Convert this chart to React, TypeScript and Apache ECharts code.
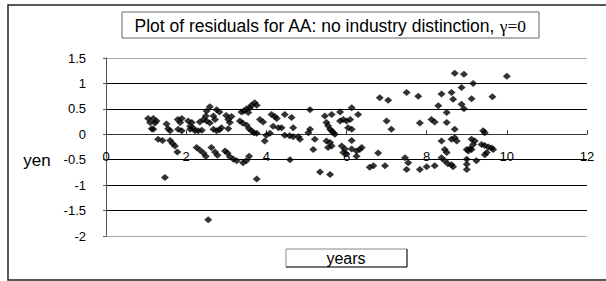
import React, { useEffect, useRef } from "react";
import * as echarts from "echarts";

// years (x) and residuals in yen (y)
const years: number[] = [
  1.05, 1.18, 1.26, 1.10, 1.22, 1.14, 1.18, 1.30, 1.41, 1.51, 1.55, 1.60, 1.60, 1.66, 1.72, 1.78, 1.47,
  1.79, 1.89, 1.85, 1.80, 1.89, 2.05, 2.14, 2.10, 2.18, 2.10, 2.22, 2.30, 2.39, 2.34, 2.43, 2.26, 2.34,
  2.43, 2.49, 2.51, 2.49, 2.59, 2.76, 2.83, 2.68, 2.72, 2.51, 2.59, 2.68, 2.76, 2.83, 2.88, 2.63, 2.72,
  2.78, 2.97, 3.03, 2.55, 3.00, 3.05, 3.09, 3.05, 3.13, 3.09, 3.18, 3.26, 3.38, 3.44, 3.51, 3.55, 3.59,
  3.63, 3.71, 3.76, 3.34, 3.41, 3.51, 3.57, 3.63, 3.69, 3.76, 3.42, 3.50, 3.57, 3.76, 3.84, 3.92, 4.00,
  3.96, 4.09, 4.13, 4.21, 4.26, 4.17, 4.30,
  4.46, 4.63, 4.38, 4.67, 4.46, 4.58, 4.67, 4.80, 4.84, 4.59, 5.09, 5.09, 5.05, 5.21, 5.17, 5.34, 5.59,
  5.46, 5.63, 5.50, 5.54, 5.59, 5.63, 5.67, 5.71, 5.50, 5.59, 5.63, 5.54, 5.84, 5.92, 5.84, 6.00, 6.09,
  6.13, 6.29, 6.04, 6.13, 6.13, 5.88, 5.96, 5.92, 6.00, 6.13, 6.25, 6.38, 6.33, 6.25, 6.58, 6.67, 6.79,
  6.96, 6.83, 7.04, 7.00, 7.12, 7.46, 7.50, 7.54, 7.50, 7.79, 7.83, 7.83, 8.00, 8.20, 8.12, 8.20, 8.29,
  8.37, 8.50, 8.50, 8.37, 8.45, 8.50, 8.37, 8.45, 8.53,
  8.70, 8.93, 9.16, 8.87, 8.62, 8.66, 9.12, 9.64, 10.00, 8.87, 8.93, 8.70, 9.41, 9.45, 8.62, 8.75, 8.70,
  9.12, 9.20, 9.16, 9.00, 9.04, 9.08, 9.12, 9.37, 9.45, 9.54, 9.62, 9.66, 9.45, 9.50, 9.24, 9.00, 9.00,
  9.00, 8.62, 8.66,
];

const residuals: number[] = [
  0.31, 0.31, 0.26, 0.23, 0.22, 0.11, 0.10, -0.10, -0.12, 0.20, 0.11, 0.07, -0.12, -0.18, -0.23, -0.35, -0.85,
  0.29, 0.31, 0.23, 0.10, 0.07, 0.26, 0.23, 0.16, 0.12, 0.10, 0.07, 0.07, 0.08, 0.24, 0.29, -0.26, -0.31,
  -0.37, -0.43, 0.46, 0.36, 0.54, 0.48, 0.44, 0.36, 0.29, 0.26, 0.22, 0.10, 0.07, 0.09, 0.13, -0.26, -0.35,
  -0.41, -0.33, -0.37, -1.68, 0.37, 0.29, 0.23, 0.11, 0.35, -0.44, -0.49, -0.52, 0.44, 0.46, 0.50, 0.43, 0.52,
  0.57, 0.62, 0.57, 0.26, 0.22, 0.18, 0.11, 0.07, 0.03, 0.02, -0.56, -0.52, -0.43, -0.88, 0.29, 0.24, -0.02,
  -0.13, 0.02, 0.39, 0.35, 0.31, 0.16, 0.13,
  0.39, 0.33, 0.13, 0.13, -0.02, -0.03, -0.05, -0.05, -0.10, -0.50, 0.48, 0.10, 0.03, -0.10, -0.30, -0.74, -0.79,
  0.36, 0.39, 0.23, 0.17, 0.10, 0.07, 0.03, 0.00, -0.13, -0.16, -0.23, -0.26, 0.44, 0.29, 0.26, 0.26, 0.29,
  0.52, 0.39, 0.13, 0.10, -0.12, -0.23, -0.29, -0.36, -0.39, -0.29, -0.33, -0.26, -0.30, -0.43, -0.65, -0.62, -0.37,
  -0.62, 0.72, 0.67, 0.26, 0.10, -0.46, -0.69, -0.56, 0.82, 0.75, 0.22, -0.69, -0.64, -0.62, 0.29, 0.24, 0.56,
  0.79, 0.43, 0.23, -0.13, -0.30, -0.36, -0.46, -0.52, -0.58,
  1.20, 1.18, 1.00, 0.92, 0.82, 0.69, 0.70, 0.74, 1.14, 0.59, 0.50, 0.10, 0.07, 0.03, -0.10, -0.13, -0.07,
  -0.10, -0.13, -0.20, -0.30, -0.33, -0.28, -0.30, -0.20, -0.22, -0.25, -0.27, -0.30, -0.40, -0.36, -0.52, -0.49, -0.59,
  -0.69, -0.60, -0.64,
];

const titleMain = "Plot of residuals for AA: no industry distinction, ";
const titleGreek = "γ=0";
const yName = "yen";
const xName = "years";

export default function App() {
  const ref = useRef<HTMLDivElement>(null);

  useEffect(() => {
    if (!ref.current) return;
    const chart = echarts.init(ref.current, null, { renderer: "svg" });
    const points = years.map((x, i) => [x, residuals[i]]);
    const font = "'Liberation Sans', Arial, sans-serif";

    chart.setOption({
      animation: false,
      backgroundColor: "#ffffff",
      grid: { left: 106, top: 58, width: 481, height: 178, containLabel: false },
      xAxis: {
        type: "value",
        min: 0,
        max: 12,
        interval: 2,
        axisLine: { show: true, onZero: true, lineStyle: { color: "#333", width: 1 } },
        axisTick: { show: true, inside: true, length: 4, lineStyle: { color: "#333" } },
        // labels sit just under the zero line, as in the reference
        axisLabel: { color: "#000", fontSize: 13, fontFamily: font, margin: -86 },
        splitLine: { show: false },
      },
      yAxis: {
        type: "value",
        min: -2,
        max: 1.5,
        interval: 0.5,
        axisLine: { show: true, onZero: false, lineStyle: { color: "#555", width: 1 } },
        axisTick: { show: true, inside: false, length: 3, lineStyle: { color: "#555" } },
        axisLabel: { color: "#000", fontSize: 13, fontFamily: font, margin: 20 },
        splitLine: {
          show: true,
          lineStyle: {
            color: ["#aaaaaa", "#000", "#000", "#000", "#000", "#000", "#000", "#aaaaaa"],
            width: 1,
          },
        },
      },
      series: [
        {
          type: "scatter",
          data: points,
          symbol: "diamond",
          symbolSize: [8, 7],
          itemStyle: { color: "#000" },
          z: 5,
        },
      ],
      graphic: [
        {
          type: "rect",
          shape: { x: 8, y: 5, width: 640, height: 275 },
          style: { fill: "none", stroke: "#222", lineWidth: 1.5 },
          silent: true,
          z: 10,
        },
        {
          type: "rect",
          shape: { x: 122, y: 12, width: 417, height: 26 },
          style: { fill: "#fff", stroke: "#666", lineWidth: 1 },
          z: 10,
        },
        {
          type: "text",
          x: 330,
          y: 25.5,
          z: 11,
          style: {
            text: "{a|" + titleMain + "}{g|" + titleGreek + "}",
            align: "center",
            verticalAlign: "middle",
            rich: {
              a: { fontFamily: font, fontSize: 17.5, fill: "#000" },
              g: { fontFamily: "'Liberation Serif', 'Times New Roman', serif", fontSize: 17.5, fill: "#000" },
            },
          },
        },
        {
          type: "text",
          x: 37,
          y: 160,
          z: 11,
          style: {
            text: yName,
            font: "17px " + font,
            fill: "#000",
            align: "center",
            verticalAlign: "middle",
          },
        },
        {
          type: "rect",
          shape: { x: 286, y: 249, width: 121, height: 18 },
          style: { fill: "#fff", stroke: "#888", lineWidth: 1 },
          z: 10,
        },
        {
          type: "polyline",
          shape: { points: [[407, 249], [407, 267], [286, 267]] },
          style: { fill: "none", stroke: "#222", lineWidth: 1 },
          z: 10,
        },
        {
          type: "text",
          x: 346,
          y: 258,
          z: 11,
          style: {
            text: xName,
            font: "16px " + font,
            fill: "#000",
            align: "center",
            verticalAlign: "middle",
          },
        },
      ],
    });

    return () => chart.dispose();
  }, []);

  return (
    <div
      ref={ref}
      style={{ position: "fixed", left: 0, top: 0, width: 606, height: 281, background: "#fff" }}
    />
  );
}
